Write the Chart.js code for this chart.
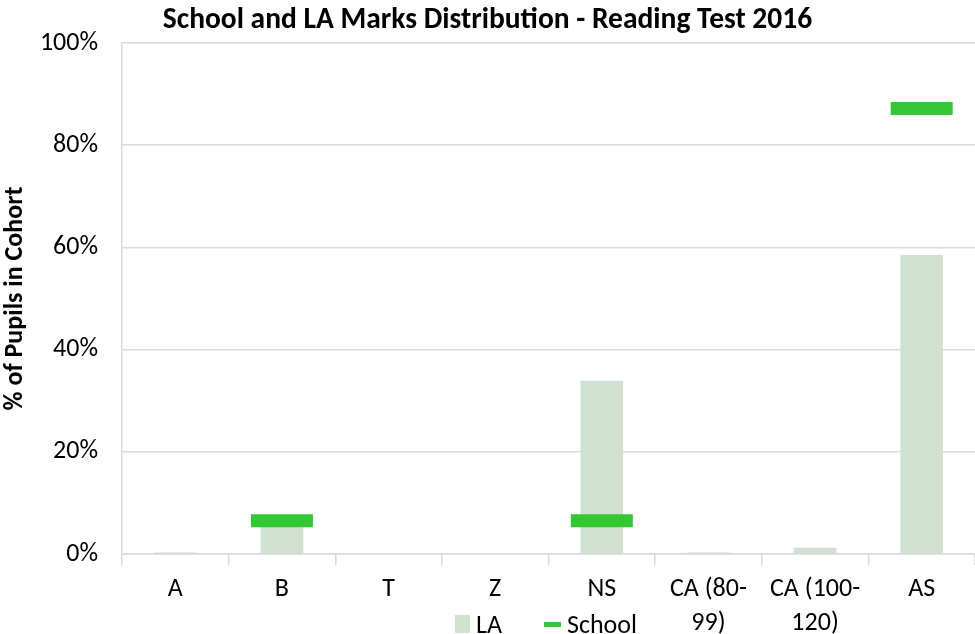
<!DOCTYPE html>
<html>
<head>
<meta charset="utf-8">
<script src="https://cdn.jsdelivr.net/npm/chart.js@4"></script>
<style>
html,body{margin:0;padding:0;background:#fff;}
#wrap{position:relative;width:975px;height:634px;overflow:hidden;}
#legend{position:absolute;left:455px;top:607px;height:34px;font-family:Carlito,Lato,sans-serif;font-size:26px;line-height:34px;color:#000;display:flex;align-items:center;white-space:nowrap;}
.sw{display:inline-block;}
</style>
</head>
<body>
<div id="wrap">
<canvas id="c" width="975" height="634"></canvas>
<div id="legend">
  <span class="sw" style="width:15px;height:18px;background:#D0E0D1;margin-right:6px;"></span><span>LA</span>
  <span class="sw" style="width:17px;height:5px;background:#33C733;margin-left:42px;margin-right:6px;"></span><span>School</span>
</div>
</div>
<script>
const categories = [["A"], ["B"], ["T"], ["Z"], ["NS"], ["CA (80-", "99)"], ["CA (100-", "120)"], ["AS"]];
const laValues = [0.3, 5.3, 0, 0, 33.9, 0.3, 1.2, 58.5];
const schoolValues = [null, 6.5, null, null, 6.5, null, null, 87.2];
const yTicks = [0, 20, 40, 60, 80, 100];

const FONT = "Carlito, Lato, sans-serif";

new Chart(document.getElementById('c'), {
  type: 'bar',
  data: {
    labels: categories,
    datasets: [
      {
        label: 'LA',
        data: laValues,
        backgroundColor: '#D0E0D1',
        borderWidth: 0,
        barPercentage: 0.4,
        categoryPercentage: 1.0,
        order: 2
      },
      {
        label: 'School',
        type: 'line',
        data: schoolValues,
        showLine: false,
        pointStyle: 'line',
        pointRadius: 31,
        pointHoverRadius: 31,
        pointBorderWidth: 13,
        pointHoverBorderWidth: 13,
        borderColor: '#33C733',
        backgroundColor: '#33C733',
        clip: false,
        order: 1
      }
    ]
  },
  options: {
    responsive: false,
    animation: false,
    devicePixelRatio: 1,
    layout: { autoPadding: false, padding: { left: 0, right: 0, top: 0, bottom: 0 } },
    plugins: {
      legend: { display: false },
      tooltip: { enabled: false },
      title: {
        display: true,
        text: 'School and LA Marks Distribution - Reading Test 2016',
        color: '#000',
        font: { family: FONT, size: 29.5, weight: 'bold', lineHeight: 1.2 },
        padding: { top: 3, bottom: 4.6 }
      }
    },
    scales: {
      x: {
        grid: { display: true, drawOnChartArea: false, offset: true, color: '#D9D9D9', lineWidth: 1.5, tickLength: 11 },
        border: { display: true, color: '#D9D9D9', width: 1.5 },
        ticks: { color: '#000', font: { family: FONT, size: 26, lineHeight: 1.3 }, maxRotation: 0, autoSkip: false, padding: 8 },
        afterFit: s => { s.height = 80; s.paddingLeft = 0; s.paddingRight = 0; }
      },
      y: {
        min: 0, max: 100,
        afterBuildTicks: s => { s.ticks = yTicks.map(v => ({ value: v })); },
        grid: { color: '#D9D9D9', lineWidth: 1.5, tickLength: 0 },
        border: { display: true, color: '#D9D9D9', width: 1.5 },
        ticks: { color: '#000', font: { family: FONT, size: 26 }, padding: 24, callback: v => v + '%' },
        title: { display: true, text: '% of Pupils in Cohort', color: '#000', font: { family: FONT, size: 26, weight: 'bold' }, padding: { top: 0, bottom: 4 } },
        afterFit: s => { s.width = 122; s.paddingTop = 0; s.paddingBottom = 0; }
      }
    }
  }
});
</script>
</body>
</html>
